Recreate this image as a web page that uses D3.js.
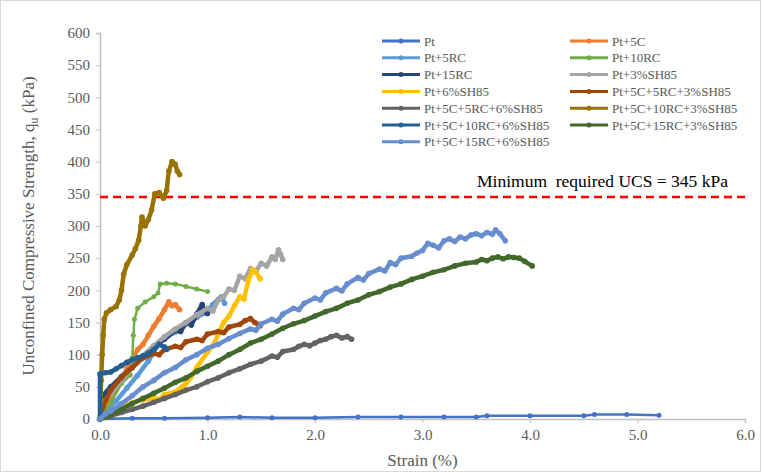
<!DOCTYPE html>
<html lang="en">
<head>
  <meta charset="UTF-8">
  <title>UCS vs strain</title>
  <style>
    body { margin: 0; background: #fff; }
  </style>
</head>
<body>
  <svg id="svg" width="763" height="473"></svg>
  <script src="https://d3js.org/d3.v7.min.js"></script>
  <script>
    const serif = "'Liberation Serif', 'Times New Roman', serif"

    // series names, in drawing / legend order
    const seriesNames = [
      'Pt', 'Pt+5C', 'Pt+5RC', 'Pt+10RC', 'Pt+15RC', 'Pt+3%SH85',
      'Pt+6%SH85', 'Pt+5C+5RC+3%SH85', 'Pt+5C+5RC+6%SH85', 'Pt+5C+10RC+3%SH85',
      'Pt+5C+10RC+6%SH85', 'Pt+5C+15RC+3%SH85', 'Pt+5C+15RC+6%SH85'
    ]
    const seriesColors = [
      '#4472C4', '#ED7D31', '#5B9BD5', '#70AD47', '#264478', '#A5A5A5',
      '#FFC000', '#9E480E', '#636363', '#997300', '#255E91', '#43682B', '#698ED0'
    ]

    // [strain %, qu kPa]
    const pt = [[0,0],[0.3,1],[0.6,1],[1.0,2],[1.3,3],[1.6,2],[2.0,2],[2.4,3],[2.8,3],[3.2,3],[3.5,3],[3.6,5],[4.0,5],[4.5,5],[4.6,7],[4.9,7],[5.2,6]]
    const pt5c = [[0,0],[0.05,15],[0.1,30],[0.15,46],[0.2,62],[0.25,78],[0.3,92],[0.35,108],[0.4,116],[0.45,130],[0.5,144],[0.55,156],[0.6,170],[0.64,182],[0.67,176],[0.7,178],[0.74,170]]
    const pt5rc = [[0,0],[0.05,12],[0.15,28],[0.25,48],[0.35,68],[0.45,90],[0.55,118],[0.62,128],[0.7,135],[0.8,148],[0.9,158],[0.98,165],[1.05,178],[1.1,186],[1.13,190],[1.16,180]]
    const pt10rc = [[0,0],[0.1,25],[0.2,55],[0.28,68],[0.3,95],[0.31,130],[0.32,155],[0.35,172],[0.42,182],[0.5,190],[0.54,196],[0.56,210],[0.62,211],[0.7,210],[0.8,206],[0.9,202],[1.0,198]]
    const pt15rc = [[0,0],[0.02,35],[0.1,50],[0.2,66],[0.3,80],[0.4,98],[0.5,112],[0.6,124],[0.7,138],[0.75,136],[0.8,150],[0.85,146],[0.9,163],[0.95,178],[0.97,168],[1.0,164]]
    const pt3sh = [[0,0],[0.03,25],[0.1,40],[0.2,60],[0.3,80],[0.4,98],[0.5,114],[0.6,128],[0.7,140],[0.8,150],[0.9,162],[1.0,172],[1.05,168],[1.1,185],[1.15,190],[1.2,202],[1.25,200],[1.3,222],[1.35,218],[1.4,234],[1.45,230],[1.5,242],[1.55,238],[1.6,252],[1.63,248],[1.66,263],[1.68,256],[1.7,248]]
    const pt6sh = [[0,0],[0.1,8],[0.2,18],[0.3,25],[0.4,30],[0.5,33],[0.55,30],[0.6,38],[0.7,42],[0.8,55],[0.85,66],[0.9,80],[1.0,104],[1.05,114],[1.1,132],[1.15,150],[1.2,160],[1.25,176],[1.3,190],[1.34,186],[1.38,216],[1.42,232],[1.45,228],[1.49,218]]
    const pt5c5rc3sh = [[0,0],[0.03,20],[0.1,45],[0.2,65],[0.3,80],[0.4,95],[0.5,102],[0.55,100],[0.6,108],[0.7,113],[0.75,111],[0.8,120],[0.9,124],[0.95,122],[1.0,132],[1.1,136],[1.15,134],[1.2,143],[1.3,147],[1.35,153],[1.4,156],[1.44,150],[1.49,145]]
    const pt5c5rc6sh = [[0,0],[0.1,5],[0.2,10],[0.3,15],[0.4,20],[0.5,26],[0.6,32],[0.7,38],[0.8,45],[0.9,50],[1.0,58],[1.1,64],[1.2,72],[1.3,78],[1.4,85],[1.5,90],[1.6,98],[1.65,96],[1.7,105],[1.8,108],[1.85,113],[1.9,116],[1.95,114],[2.0,118],[2.05,122],[2.1,124],[2.15,128],[2.2,130],[2.25,126],[2.3,128],[2.34,124]]
    const pt5c10rc3sh = [[0,0],[0.01,60],[0.02,100],[0.03,130],[0.04,155],[0.06,165],[0.1,170],[0.15,175],[0.18,185],[0.2,200],[0.22,225],[0.25,240],[0.3,255],[0.33,265],[0.36,278],[0.38,300],[0.39,314],[0.42,300],[0.45,310],[0.48,325],[0.51,350],[0.55,352],[0.59,343],[0.62,355],[0.64,385],[0.67,400],[0.7,396],[0.72,385],[0.74,380]]
    const pt5c10rc6sh = [[0,0],[0,70],[0.05,72],[0.1,73],[0.15,78],[0.2,83],[0.25,88],[0.3,92],[0.35,95],[0.4,98],[0.45,102],[0.5,108],[0.55,116],[0.6,112],[0.62,108]]
    const pt5c15rc3sh = [[0,0],[0.1,7],[0.2,15],[0.3,24],[0.4,32],[0.5,40],[0.6,48],[0.7,57],[0.8,64],[0.9,74],[1.0,82],[1.1,90],[1.2,100],[1.3,108],[1.4,118],[1.5,124],[1.6,132],[1.7,141],[1.8,148],[1.9,153],[2.0,160],[2.1,167],[2.2,172],[2.3,180],[2.4,185],[2.5,193],[2.6,198],[2.7,205],[2.8,210],[2.9,217],[3.0,222],[3.1,228],[3.2,232],[3.3,238],[3.4,242],[3.5,244],[3.55,248],[3.6,246],[3.65,250],[3.7,252],[3.75,249],[3.8,252],[3.85,251],[3.9,250],[3.95,245],[4.02,238]]
    const pt5c15rc6sh = [[0,0],[0.05,8],[0.1,12],[0.2,24],[0.3,36],[0.4,50],[0.5,60],[0.6,72],[0.7,80],[0.8,92],[0.9,100],[1.0,110],[1.1,116],[1.2,125],[1.3,133],[1.4,140],[1.45,138],[1.5,148],[1.6,155],[1.65,152],[1.7,163],[1.8,172],[1.85,170],[1.9,180],[2.0,188],[2.05,185],[2.1,196],[2.2,203],[2.25,199],[2.3,210],[2.4,220],[2.45,216],[2.5,226],[2.6,233],[2.65,230],[2.7,243],[2.75,240],[2.8,250],[2.9,253],[2.95,258],[3.0,262],[3.05,273],[3.1,270],[3.15,266],[3.2,277],[3.25,280],[3.3,276],[3.35,283],[3.4,280],[3.45,286],[3.5,288],[3.55,285],[3.6,290],[3.65,287],[3.68,294],[3.72,288],[3.77,277]]

    const seriesData = [pt, pt5c, pt5rc, pt10rc, pt15rc, pt3sh, pt6sh, pt5c5rc3sh, pt5c5rc6sh, pt5c10rc3sh, pt5c10rc6sh, pt5c15rc3sh, pt5c15rc6sh]

    const xTicks = [0, 1, 2, 3, 4, 5, 6]
    const yTicks = [0, 50, 100, 150, 200, 250, 300, 350, 400, 450, 500, 550, 600]
    const minUcs = 345

    const svg = d3.select('#svg')
    const x = d3.scaleLinear().domain([0, 6]).range([100, 745])
    const y = d3.scaleLinear().domain([0, 600]).range([419, 33])

    // chart border
    svg.append('rect')
      .attr('x', 0.5).attr('y', 0.5).attr('width', 760).attr('height', 471)
      .attr('fill', 'none').attr('stroke', '#D9D9D9')

    // axes
    const xAxis = svg.append('g')
      .attr('transform', `translate(0,${y(0)})`)
      .call(d3.axisBottom(x).tickValues(xTicks).tickFormat(d3.format('.1f')).tickSize(4).tickPadding(6))
    const yAxis = svg.append('g')
      .attr('transform', `translate(${x(0)},0)`)
      .call(d3.axisLeft(y).tickValues(yTicks).tickSize(4).tickPadding(6))
    ;[xAxis, yAxis].forEach(g => {
      g.attr('font-family', null)
      g.select('.domain').attr('stroke', '#BFBFBF').attr('stroke-width', 1.5)
      g.selectAll('.tick line').attr('stroke', '#BFBFBF')
      g.selectAll('.tick text')
        .attr('fill', '#595959')
        .style('font-size', '15px')
        .style('font-family', serif)
    })

    // axis titles
    svg.append('text')
      .attr('x', x(3)).attr('y', 466)
      .attr('text-anchor', 'middle')
      .attr('fill', '#595959')
      .style('font-family', serif).style('font-size', '17px')
      .text('Strain (%)')

    const yTitle = svg.append('text')
      .attr('transform', `translate(34,${y(300)}) rotate(-90)`)
      .attr('text-anchor', 'middle')
      .attr('fill', '#595959')
      .style('font-family', serif).style('font-size', '17px')
    yTitle.append('tspan').text('Unconfined Compressive Strength, q')
    yTitle.append('tspan').attr('dy', 4).style('font-size', '12px').text('u')
    yTitle.append('tspan').attr('dy', -4).text(' (kPa)')

    // minimum required UCS line
    svg.append('line')
      .attr('x1', x(0)).attr('x2', x(6))
      .attr('y1', y(minUcs)).attr('y2', y(minUcs))
      .attr('stroke', '#FF0000').attr('stroke-width', 2.5)
      .attr('stroke-dasharray', '8,5')
    svg.append('text')
      .attr('x', 477).attr('y', y(minUcs) - 10)
      .attr('fill', '#000')
      .style('font-family', serif).style('font-size', '17.5px')
      .style('white-space', 'pre')
      .text('Minimum  required UCS = 345 kPa')

    // series
    const line = d3.line().x(d => x(d[0])).y(d => y(d[1]))
    const plot = svg.append('g')
    seriesData.forEach((data, i) => {
      const thin = seriesNames[i] === 'Pt+10RC' || seriesNames[i] === 'Pt'
      const g = plot.append('g')
      g.append('path')
        .datum(data)
        .attr('d', line)
        .attr('fill', 'none')
        .attr('stroke', seriesColors[i])
        .attr('stroke-width', thin ? 2.5 : 4.5)
        .attr('stroke-linejoin', 'round')
        .attr('stroke-linecap', 'round')
      g.selectAll('circle')
        .data(data)
        .join('circle')
        .attr('cx', d => x(d[0]))
        .attr('cy', d => y(d[1]))
        .attr('r', thin ? 2.5 : 2.8)
        .attr('fill', seriesColors[i])
    })

    // legend (two columns, row-wise in series order)
    const legend = svg.append('g')
    seriesNames.forEach((name, i) => {
      const col = i % 2
      const row = Math.floor(i / 2)
      const lx = col === 0 ? 382 : 570
      const ly = 41 + row * 16.8
      const item = legend.append('g').attr('transform', `translate(${lx},${ly})`)
      item.append('line')
        .attr('x1', 0).attr('x2', 38).attr('y1', 0).attr('y2', 0)
        .attr('stroke', seriesColors[i]).attr('stroke-width', 3)
      item.append('circle').attr('cx', 19).attr('cy', 0).attr('r', 2.5).attr('fill', seriesColors[i])
      item.append('text')
        .attr('x', 42).attr('y', 4.5)
        .attr('fill', '#595959')
        .style('font-family', serif).style('font-size', '13px')
        .text(name)
    })
  </script>
</body>
</html>
